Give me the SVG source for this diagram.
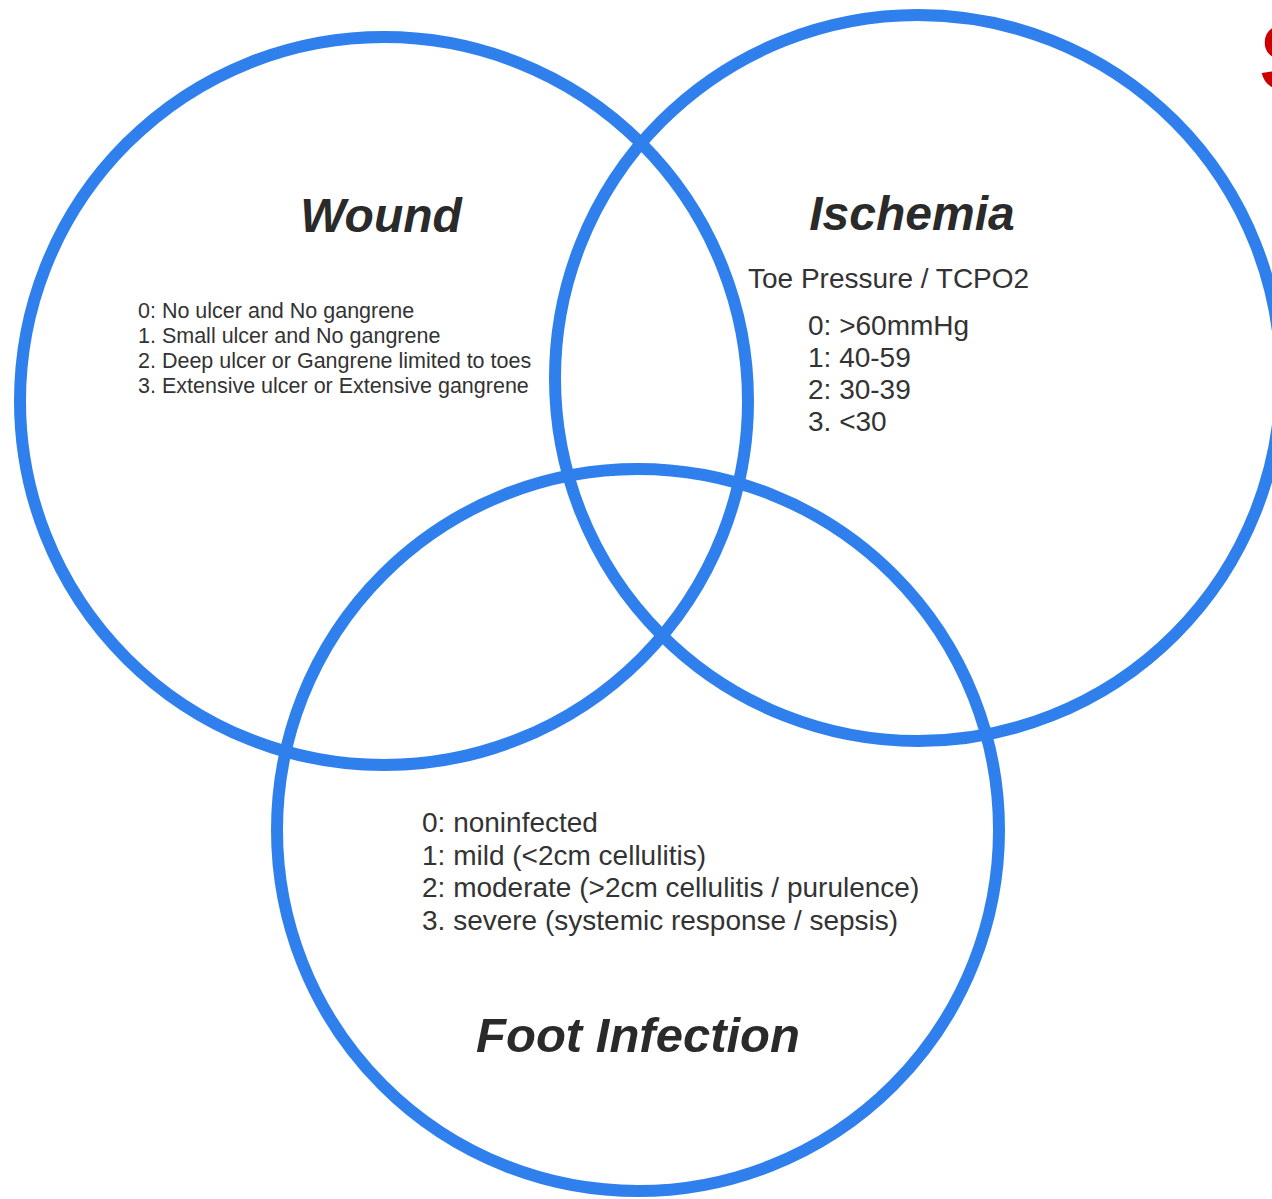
<svg xmlns="http://www.w3.org/2000/svg" width="1272" height="1199" viewBox="0 0 1272 1199">
<style>
.ring{fill:none;stroke:#2f80ed;stroke-width:12}
.title{font-family:"Liberation Sans",Arial,sans-serif;font-weight:bold;font-style:italic;font-size:48px;fill:#2a2a2a;text-anchor:middle}
.item{font-family:"Liberation Sans",Arial,sans-serif;fill:#333}
.s21{font-size:21.5px}
.s28{font-size:28px}
</style>
<rect width="1272" height="1199" fill="#fff"/>
<g id="wound">
<circle class="ring" cx="384" cy="401" r="364"/>
<text class="title" x="381" y="232">Wound</text>
<text class="item s21" x="138" y="318">0: No ulcer and No gangrene</text>
<text class="item s21" x="138" y="343">1. Small ulcer and No gangrene</text>
<text class="item s21" x="138" y="368">2. Deep ulcer or Gangrene limited to toes</text>
<text class="item s21" x="138" y="393">3. Extensive ulcer or Extensive gangrene</text>
</g>
<g id="ischemia">
<circle class="ring" cx="918" cy="378" r="363"/>
<text class="title" x="912" y="230">Ischemia</text>
<text class="item s28" x="748" y="288">Toe Pressure / TCPO2</text>
<text class="item s28" x="808" y="335">0: &gt;60mmHg</text>
<text class="item s28" x="808" y="367">1: 40-59</text>
<text class="item s28" x="808" y="399">2: 30-39</text>
<text class="item s28" x="808" y="431">3. &lt;30</text>
</g>
<g id="foot-infection">
<circle class="ring" cx="638" cy="830" r="361"/>
<text class="title" x="638" y="1052" style="font-size:49px">Foot Infection</text>
<text class="item s28" x="422" y="832">0: noninfected</text>
<text class="item s28" x="422" y="864.5">1: mild (&lt;2cm cellulitis)</text>
<text class="item s28" x="422" y="897">2: moderate (&gt;2cm cellulitis / purulence)</text>
<text class="item s28" x="422" y="929.5">3. severe (systemic response / sepsis)</text>
</g>
<g id="connectors"/>
<text x="1259" y="90" style="font-family:'Liberation Sans',Arial,sans-serif;font-weight:bold;font-size:94px;fill:#cc0000">S</text>
</svg>
